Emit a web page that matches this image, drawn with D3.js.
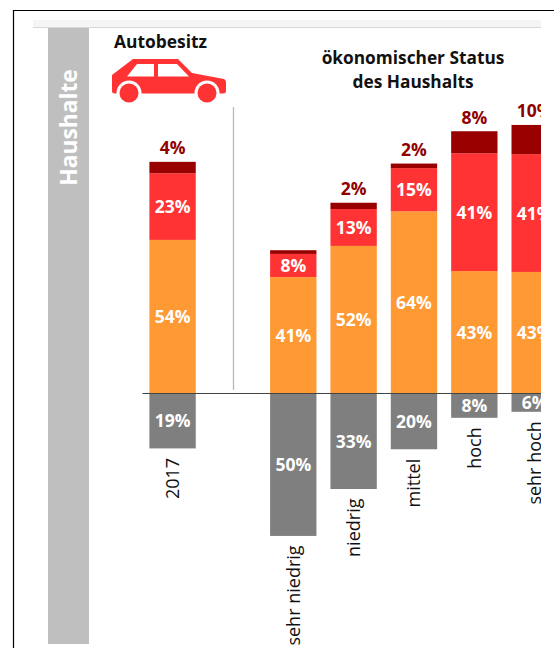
<!DOCTYPE html>
<html><head><meta charset="utf-8">
<script src="https://cdn.jsdelivr.net/npm/d3@7"></script>
<style>html,body{margin:0;padding:0;background:#fff}svg{display:block}text{font-family:"Open Sans",sans-serif}</style>
</head><body><script>
const categories = ["2017", "", "sehr niedrig", "niedrig", "mittel", "hoch", "sehr hoch"];
const barCategories = ["2017", "sehr niedrig", "niedrig", "mittel", "hoch", "sehr hoch"];
const keinAuto = [19.2, 49.8, 33.4, 19.5, 8.5, 6.4];
const einAuto = [53.7, 40.7, 51.6, 63.7, 42.8, 42.5];
const zweiAutos = [23.3, 8.1, 12.9, 15.1, 41.2, 41.2];
const dreiAutos = [4, 1.3, 2.2, 1.6, 7.7, 10.2];
const negLabels = ["19%", "50%", "33%", "20%", "8%", "6%"];
const oneLabels = ["54%", "41%", "52%", "64%", "43%", "43%"];
const twoLabels = ["23%", "8%", "13%", "15%", "41%", "41%"];
const threeLabels = ["4%", "", "2%", "2%", "8%", "10%"];
const colors = ["#ff9933", "#ff3333", "#990000"];

const W = 554, H = 648;
const svg = d3.select("body").append("svg").attr("width", W).attr("height", H);
const x = d3.scaleBand().domain(categories).range([142.4, 564.85]).paddingInner(0.232).paddingOuter(0.116);
const y = d3.scaleLinear().domain([0, 100]).range([393.5, 107.5]);

svg.append("rect").attr("x",33).attr("y",20).attr("width",508).attr("height",7).attr("fill","#f5f5f5");
svg.append("line").attr("x1",33).attr("x2",541).attr("y1",27.5).attr("y2",27.5).attr("stroke","#d8d8d8");
svg.append("path").attr("d","M13.5 648V10.5H554").attr("fill","none").attr("stroke","#000").attr("stroke-width",1.2);
svg.append("rect").attr("x",48).attr("y",28).attr("width",41).attr("height",616).attr("fill","#bfbfbf");
svg.append("text").attr("transform","translate(76.5,127.5) rotate(-90)").attr("text-anchor","middle")
  .attr("fill","#fff").attr("font-weight",700).attr("font-size",22.800).text("Haushalte");

svg.append("text").attr("x",114).attr("y",48).attr("font-size",17.400).attr("font-weight",700).attr("fill","#111").text("Autobesitz");
const t = svg.append("text").attr("text-anchor","middle").attr("font-size",17.300).attr("font-weight",700).attr("fill","#111");
t.append("tspan").attr("x",413).attr("y",64).text("ökonomischer Status");
t.append("tspan").attr("x",413).attr("y",88).text("des Haushalts");

const car = svg.append("g");
car.append("path").attr("fill","#ff3333").attr("fill-rule","evenodd")
 .attr("d","M112 75L133 59H178L192 73L224 79Q226 80 226 82V91Q226 93.500 223 93.500H115Q112 93.500 112 91ZM127 76.500H154V64H137ZM158 64V76.500H189L177 64Z");
[129, 207].forEach(cx=>{
  car.append("circle").attr("cx",cx).attr("cy",93).attr("r",12.500).attr("fill","#fff");
  car.append("circle").attr("cx",cx).attr("cy",93).attr("r",9.500).attr("fill","#ff3333");
});

svg.append("line").attr("x1",233.500).attr("x2",233.500).attr("y1",107).attr("y2",390).attr("stroke","#b8b8b8").attr("stroke-width",1.3);

svg.append("clipPath").attr("id","c").append("rect").attr("x",0).attr("y",0).attr("width",541).attr("height",H);
const g = svg.append("g").attr("clip-path","url(#c)");

function stackLabel(data, fill, pos){
  g.selectAll(null).data(data).join("text").attr("text-anchor","middle").attr("font-size",17.500).attr("font-weight",700)
   .attr("fill",fill).attr("x",(d,i)=>x(barCategories[i])+x.bandwidth()/2).attr("y",pos).text(d=>d);
}
const layers = [einAuto, zweiAutos, dreiAutos];
layers.forEach((arr,k)=>{
  g.selectAll(null).data(arr).join("rect")
   .attr("x",(d,i)=>x(barCategories[i])).attr("width",x.bandwidth())
   .attr("y",(d,i)=>y(d3.sum(layers.slice(0,k+1),a=>a[i])))
   .attr("height",d=>y(0)-y(d)).attr("fill",colors[k]);
});
g.selectAll(null).data(keinAuto).join("rect")
 .attr("x",(d,i)=>x(barCategories[i])).attr("width",x.bandwidth())
 .attr("y",y(0)).attr("height",d=>y(0)-y(d)).attr("fill","#7f7f7f");

stackLabel(oneLabels,"#fff",(d,i)=>y(einAuto[i]/2)+6.500);
stackLabel(twoLabels,"#fff",(d,i)=>y(einAuto[i]+zweiAutos[i]/2)+6.500);
stackLabel(threeLabels,"#8f0000",(d,i)=>y(einAuto[i]+zweiAutos[i]+dreiAutos[i])-7.500);
stackLabel(negLabels,"#fff",(d,i)=>y(-keinAuto[i]/2)+6.500);

g.selectAll(null).data(barCategories).join("text")
 .attr("font-size",18).attr("fill","#111").attr("text-anchor","end")
 .attr("transform",(d,i)=>`translate(${x(d)+x.bandwidth()/2+6.500},${y(-keinAuto[i])+9.500}) rotate(-90)`)
 .text(d=>d);

svg.append("line").attr("x1",142.500).attr("x2",541).attr("y1",393.500).attr("y2",393.500).attr("stroke","#444").attr("stroke-width",1);
</script></body></html>
